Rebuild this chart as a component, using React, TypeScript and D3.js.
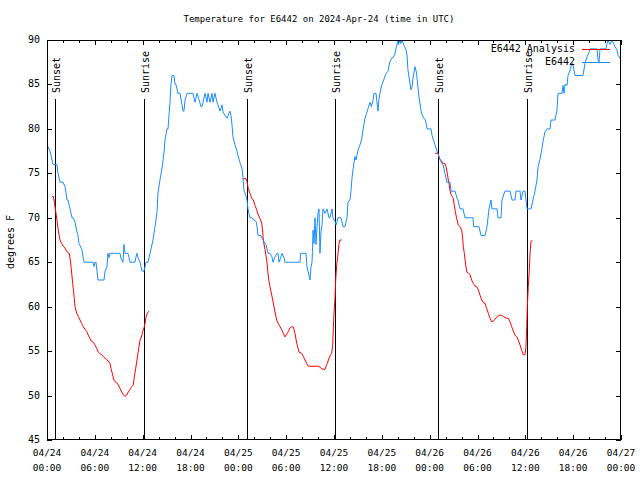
import React from "react";
import * as d3 from "d3";

// hours since 2024-04-24 00:00 UTC, temperature in degrees F
const observed: [number, number][] = [
  [0.13, 78], [0.38, 77.5], [0.63, 76.5], [0.75, 76], [1.25, 76], [1.38, 75], [1.63, 74], [2.01, 74],
  [2.26, 73.5], [2.38, 72.8], [2.51, 72], [2.63, 72], [2.89, 71], [3.14, 70], [3.26, 70], [3.51, 69.5],
  [3.76, 68.4], [3.89, 68], [4.01, 67.1], [4.39, 66.4], [4.52, 65.6], [4.64, 65], [5.77, 65], [5.9, 64.5],
  [6.02, 65], [6.15, 65], [6.27, 64], [6.4, 63], [7.15, 63], [7.28, 64], [7.53, 64.5], [7.65, 66],
  [7.78, 65.5], [7.9, 66], [9.16, 66], [9.28, 65.4], [9.53, 65], [9.66, 67], [9.78, 66], [10.16, 66],
  [10.29, 65.5], [10.41, 65], [11.04, 65], [11.16, 65.6], [11.29, 66], [11.41, 65.5], [11.67, 65], [11.92, 64],
  [12.17, 64], [12.42, 65], [12.67, 65], [12.92, 66], [13.3, 67.5], [13.55, 69], [13.8, 70.7], [13.92, 72.8],
  [14.17, 74.25], [14.43, 75.6], [14.68, 77.4], [14.8, 78.75], [15.05, 80], [15.18, 80], [15.3, 81.5], [15.43, 83],
  [15.55, 85], [15.68, 86], [15.93, 86], [16.06, 85], [16.18, 85], [16.31, 84.5], [16.43, 84], [16.68, 84],
  [16.93, 82.7], [17.06, 82], [17.18, 82], [17.31, 83.2], [17.56, 84], [18.31, 84], [18.56, 83], [18.82, 84],
  [19.07, 83.3], [19.32, 82.5], [19.44, 82.5], [19.57, 83], [19.82, 84], [20.07, 83], [20.2, 84], [20.45, 83],
  [20.7, 84], [20.82, 83], [21.07, 84], [21.32, 83], [21.45, 82.7], [21.7, 82], [21.95, 82.7], [22.08, 81.9],
  [22.33, 81.5], [22.58, 81.2], [22.7, 81.5], [22.95, 82], [23.08, 81.5], [23.21, 80.4], [23.33, 79.1], [23.58, 78.2],
  [23.83, 77.5], [23.96, 77], [24.21, 76.2], [24.46, 75.5], [24.59, 74.4], [24.71, 73.1], [24.96, 72.4], [25.09, 72],
  [25.21, 71], [25.46, 70], [25.71, 70], [25.97, 69.75], [26.22, 69.6], [26.34, 69], [26.47, 68], [26.84, 68],
  [27.09, 67.5], [27.22, 67.3], [27.47, 67], [27.72, 66], [27.97, 66], [28.22, 65.6], [28.35, 65], [28.6, 65.6],
  [28.85, 66], [28.98, 66], [29.1, 65], [29.35, 65.6], [29.48, 66], [29.73, 65.5], [29.85, 65], [31.74, 65],
  [31.8, 66], [32.49, 66], [32.61, 64.5], [32.74, 64], [32.99, 63], [33.12, 64.5], [33.24, 65], [33.3, 66.2],
  [33.37, 68.6], [33.49, 67.1], [33.62, 70], [33.74, 67], [33.87, 69], [33.99, 70.5], [34.12, 71], [34.24, 66],
  [34.37, 68.5], [34.5, 69.2], [34.62, 71], [34.87, 70.5], [35.12, 71], [35.37, 70], [35.5, 70], [35.75, 71],
  [35.87, 70], [36.0, 69.75], [36.13, 69.6], [36.25, 69.2], [36.38, 69.5], [36.5, 70], [36.88, 70], [37.13, 69],
  [37.38, 69], [37.63, 70], [37.76, 71.8], [38.01, 72], [38.13, 73], [38.26, 74.5], [38.38, 75.4], [38.63, 76.9],
  [38.76, 76.5], [39.01, 77.6], [39.26, 78.2], [39.45, 78.75], [39.64, 79.9], [39.89, 81.2], [40.08, 81.75], [40.27, 82.3],
  [40.52, 83], [40.7, 82.5], [40.89, 83.2], [41.02, 84], [41.27, 84], [41.39, 83], [41.52, 82], [41.65, 83.4],
  [41.9, 84.6], [42.02, 85], [42.27, 85.6], [42.52, 86.2], [42.77, 86.5], [43.02, 87.6], [43.28, 88], [43.4, 88],
  [43.65, 88.5], [43.84, 89.25], [44.03, 90], [44.09, 89.5], [44.28, 90], [44.4, 89.6], [44.53, 90], [44.78, 89.4],
  [45.03, 88.9], [45.16, 88.3], [45.28, 86.6], [45.53, 85.1], [45.66, 84.4], [45.78, 84.7], [45.91, 85.7], [46.16, 87],
  [46.35, 86.3], [46.54, 84.6], [46.66, 83.6], [46.91, 82.1], [47.04, 81.6], [47.29, 81.2], [47.48, 81], [47.67, 80],
  [48.17, 80], [48.29, 79.3], [48.42, 78.9], [48.67, 78.2], [48.92, 77.5], [49.05, 77.2], [49.3, 76.5], [49.55, 76.1],
  [49.67, 76], [49.92, 75], [50.17, 74], [50.55, 74], [50.68, 73], [51.18, 73], [51.43, 72.2], [51.55, 72],
  [51.81, 71], [52.18, 71], [52.43, 70], [53.44, 70], [53.5, 69], [54.19, 69], [54.44, 68], [54.94, 68],
  [55.19, 69], [55.32, 70], [55.44, 71], [55.69, 72], [55.82, 71], [56.45, 71], [56.57, 70], [56.95, 70],
  [57.07, 72], [57.45, 73], [58.08, 73], [58.33, 72], [58.7, 72], [58.83, 73], [59.33, 73], [59.46, 72],
  [59.71, 73], [59.96, 73], [60.08, 72], [60.21, 71], [60.71, 71], [60.96, 72], [61.21, 73], [61.46, 74.25],
  [61.59, 75.7], [61.84, 76.6], [62.09, 77.8], [62.22, 78.6], [62.47, 79.7], [62.72, 80], [63.09, 80], [63.22, 81],
  [63.72, 81], [63.97, 82.1], [64.1, 84], [64.6, 84], [64.73, 84.9], [64.85, 84], [64.98, 85], [65.23, 84.9],
  [65.35, 86], [65.6, 86.6], [65.85, 87.4], [65.98, 87.2], [66.23, 86], [67.23, 86], [67.49, 87.4], [67.74, 88.1],
  [67.99, 88.6], [68.11, 89], [68.99, 89], [69.12, 87.75], [69.24, 87.4], [69.37, 89], [70.12, 89], [70.24, 89.6],
  [70.37, 90], [70.62, 89.5], [70.87, 90], [71.12, 89.5], [71.25, 89.25], [71.5, 88.9], [71.62, 88.3], [71.88, 87.9],
];

const analysisNight1: [number, number][] = [
  [0.63, 72.4], [0.79, 72.4], [0.88, 72], [1.0, 71.25], [1.13, 70.5], [1.25, 69.75], [1.38, 68.8], [1.51, 68.06],
  [1.63, 67.5], [1.84, 67.1], [2.04, 66.8], [2.26, 66.6], [2.47, 66.2], [2.8, 66], [2.97, 64.9], [3.1, 63.75],
  [3.22, 62.6], [3.32, 61.9], [3.42, 60.9], [3.51, 60], [3.73, 59.25], [3.93, 58.9], [4.14, 58.5], [4.35, 58.1],
  [4.55, 57.75], [4.77, 57.45], [4.98, 57.2], [5.18, 56.8], [5.39, 56.4], [5.61, 56.06], [5.81, 55.99], [6.02, 55.7],
  [6.23, 55.3], [6.43, 54.9], [6.65, 54.7], [6.86, 54.6], [7.06, 54.4], [7.28, 54.2], [7.49, 54], [7.69, 53.9],
  [7.9, 53.6], [8.03, 53.06], [8.24, 52.3], [8.4, 51.75], [8.53, 51.56], [8.74, 51.45], [8.94, 51.2], [9.16, 50.8],
  [9.37, 50.4], [9.57, 50.1], [9.78, 49.9], [10.0, 50.06], [10.2, 50.4], [10.41, 50.7], [10.62, 51], [10.83, 51.2],
  [10.95, 52.1], [11.13, 53.06], [11.25, 53.8], [11.38, 54.6], [11.54, 55.5], [11.67, 56.25], [11.88, 56.7], [12.0, 57.2],
  [12.17, 57.6], [12.29, 58.1], [12.42, 58.8], [12.58, 59.25], [12.79, 59.5],
];

const analysisNight2: [number, number][] = [
  [24.59, 74.4], [24.96, 74.4], [25.09, 74.06], [25.25, 73.3], [25.46, 72.75], [25.68, 72.2], [25.88, 72], [26.09, 71.4],
  [26.3, 70.9], [26.51, 70.3], [26.72, 69.9], [26.93, 69.4], [27.06, 68.4], [27.13, 67.5], [27.35, 66.4], [27.56, 65.25],
  [27.68, 64.1], [27.85, 62.8], [27.97, 62.25], [28.19, 61.3], [28.39, 60.4], [28.6, 59.4], [28.81, 58.5], [29.01, 58.1],
  [29.23, 57.75], [29.44, 57.4], [29.64, 57], [29.85, 56.6], [30.07, 56.9], [30.27, 57.2], [30.48, 57.6], [30.69, 57.75],
  [30.9, 57.7], [31.11, 57], [31.32, 55.9], [31.61, 54.9], [31.95, 54.75], [32.15, 54.4], [32.36, 54], [32.58, 53.6],
  [32.78, 53.3], [33.99, 53.3], [34.24, 53.2], [34.46, 53], [34.87, 52.95], [35.0, 53.3], [35.16, 53.6], [35.37, 54.2],
  [35.59, 54.6], [35.71, 54.75], [35.84, 55.7], [35.91, 57.4], [36.0, 59.25], [36.13, 61.1], [36.21, 63], [36.34, 64.7],
  [36.46, 65.6], [36.63, 67.1], [36.75, 67.5], [36.97, 67.5],
];

const analysisNight3: [number, number][] = [
  [48.67, 77.25], [49.05, 77.25], [49.21, 76.7], [49.38, 76.5], [49.55, 76.3], [49.71, 76.1], [49.92, 76.1], [50.05, 75.75],
  [50.21, 75], [50.34, 74.25], [50.46, 73.7], [50.55, 73.1], [50.68, 72.6], [50.84, 72.4], [50.96, 72.2], [51.09, 71.4],
  [51.22, 70.7], [51.39, 69.9], [51.59, 69.2], [51.81, 69], [52.02, 68.6], [52.14, 67.7], [52.22, 66.75], [52.35, 66],
  [52.47, 65.06], [52.65, 63.9], [52.85, 63.8], [53.06, 63.6], [53.27, 63], [53.47, 62.6], [53.69, 62.3], [53.9, 62.25],
  [54.1, 61.9], [54.31, 61.3], [54.53, 60.75], [54.73, 60.45], [54.94, 60.4], [55.15, 59.8], [55.36, 59.25], [55.57, 58.7],
  [55.78, 58.3], [55.98, 58.35], [56.2, 58.6], [56.41, 58.8], [56.61, 58.95], [56.82, 59.06], [57.04, 59], [57.24, 58.9],
  [57.45, 58.8], [57.66, 58.7], [57.86, 58.7], [58.08, 58.3], [58.29, 57.75], [58.49, 57.26], [58.7, 56.8], [58.92, 56.6],
  [59.12, 56.25], [59.33, 55.7], [59.54, 55.1], [59.75, 54.6], [59.96, 54.6], [60.08, 55.5], [60.17, 57.75], [60.25, 60],
  [60.37, 62.25], [60.5, 64.1], [60.59, 66], [60.71, 67.3], [60.88, 67.5],
];

const sunEvents: { label: string; hour: number }[] = [
  { label: "Sunset", hour: 1.0 },
  { label: "Sunrise", hour: 12.2 },
  { label: "Sunset", hour: 25.12 },
  { label: "Sunrise", hour: 36.16 },
  { label: "Sunset", hour: 49.08 },
  { label: "Sunrise", hour: 60.25 },
];

const yTicks = [45, 50, 55, 60, 65, 70, 75, 80, 85, 90];
const legendLabels = ["E6442 Analysis", "E6442"];
const seriesColors = ["#ff0000", "#1a8cff"];
const title = "Temperature for E6442 on 2024-Apr-24 (time in UTC)";
const yLabel = "degrees F";

const START = Date.UTC(2024, 3, 24);
const END = Date.UTC(2024, 3, 27);
const toDate = (h: number) => new Date(START + h * 3600 * 1000);

const W = 640;
const H = 480;
const M = { left: 47, right: 621, top: 40, bottom: 440 };
const FONT = "'DejaVu Sans Mono', monospace";

export default function App() {
  const x = d3.scaleUtc().domain([new Date(START), new Date(END)]).range([M.left, M.right]);
  const y = d3.scaleLinear().domain([45, 90]).range([M.bottom, M.top]);

  const line = d3
    .line<[number, number]>()
    .x((d) => x(toDate(d[0])))
    .y((d) => y(d[1]));

  const majorTicks = x.ticks(d3.utcHour.every(6)!);
  const minorTicks = x.ticks(d3.utcHour.every(2)!).filter((t) => t.getUTCHours() % 6 !== 0);
  const fmtDate = d3.utcFormat("%m/%d");
  const fmtTime = d3.utcFormat("%H:%M");

  return (
    <svg width={W} height={H} style={{ display: "block", position: "absolute", left: 0, top: 0, background: "#fff" }}
      fontFamily={FONT} fontSize={10}>
      <rect x={0} y={0} width={W} height={H} fill="#fff" />
      <defs>
        <clipPath id="plotClip">
          <rect x={M.left} y={M.top} width={M.right - M.left} height={M.bottom - M.top} />
        </clipPath>
      </defs>

      {/* title */}
      <text x={319} y={19} textAnchor="middle" dominantBaseline="middle" fontSize={9}>{title}</text>

      {/* y label */}
      <text transform={`translate(11,242) rotate(-90)`} textAnchor="middle" dominantBaseline="middle">{yLabel}</text>

      {/* y ticks */}
      {yTicks.map((t) => (
        <g key={"y" + t} shapeRendering="crispEdges">
          <line x1={M.left} x2={M.left + 5} y1={Math.round(y(t)) + 0.5} y2={Math.round(y(t)) + 0.5} stroke="#000" />
          <line x1={M.right - 5} x2={M.right} y1={Math.round(y(t)) + 0.5} y2={Math.round(y(t)) + 0.5} stroke="#000" />
          <text x={40} y={y(t)} textAnchor="end" dominantBaseline="middle">{t}</text>
        </g>
      ))}

      {/* x ticks */}
      {majorTicks.map((t) => {
        const px = Math.round(x(t)) + 0.5;
        return (
          <g key={"x" + t.getTime()}>
            <line x1={px} x2={px} y1={M.bottom} y2={M.bottom - 5} stroke="#000" shapeRendering="crispEdges" />
            <line x1={px} x2={px} y1={M.top} y2={M.top + 5} stroke="#000" shapeRendering="crispEdges" />
            <text x={x(t)} y={453} textAnchor="middle" dominantBaseline="middle" fontSize={9.5}>{fmtDate(t)}</text>
            <text x={x(t)} y={468} textAnchor="middle" dominantBaseline="middle" fontSize={9.5}>{fmtTime(t)}</text>
          </g>
        );
      })}
      {minorTicks.map((t) => {
        const px = Math.round(x(t)) + 0.5;
        return (
          <g key={"m" + t.getTime()} shapeRendering="crispEdges">
            <line x1={px} x2={px} y1={M.bottom} y2={M.bottom - 3} stroke="#000" />
            <line x1={px} x2={px} y1={M.top} y2={M.top + 3} stroke="#000" />
          </g>
        );
      })}

      {/* sunrise / sunset markers */}
      {sunEvents.map((e, i) => {
        const px = Math.round(x(toDate(e.hour))) + 0.5;
        return (
          <g key={"s" + i}>
            <line x1={px} x2={px} y1={99} y2={M.bottom} stroke="#000" shapeRendering="crispEdges" />
            <text transform={`translate(${px + 1.5},93) rotate(-90)`} textAnchor="start" dominantBaseline="middle">
              {e.label}
            </text>
          </g>
        );
      })}

      {/* data */}
      <g clipPath="url(#plotClip)" fill="none" strokeWidth={1}>
        {[analysisNight1, analysisNight2, analysisNight3].map((seg, i) => (
          <path key={"a" + i} d={line(seg) || ""} stroke={seriesColors[0]} />
        ))}
        <path d={line(observed) || ""} stroke={seriesColors[1]} />
      </g>

      {/* legend */}
      {legendLabels.map((lab, i) => {
        const ly = 49 + i * 13;
        return (
          <g key={"l" + i}>
            <text x={575} y={ly} textAnchor="end" dominantBaseline="middle">{lab}</text>
            <line x1={582} x2={610} y1={ly + 0.5} y2={ly + 0.5} stroke={seriesColors[i]} shapeRendering="crispEdges" />
          </g>
        );
      })}

      {/* border */}
      <rect x={M.left + 0.5} y={M.top + 0.5} width={M.right - M.left - 1} height={M.bottom - M.top - 1}
        fill="none" stroke="#000" shapeRendering="crispEdges" />
    </svg>
  );
}
